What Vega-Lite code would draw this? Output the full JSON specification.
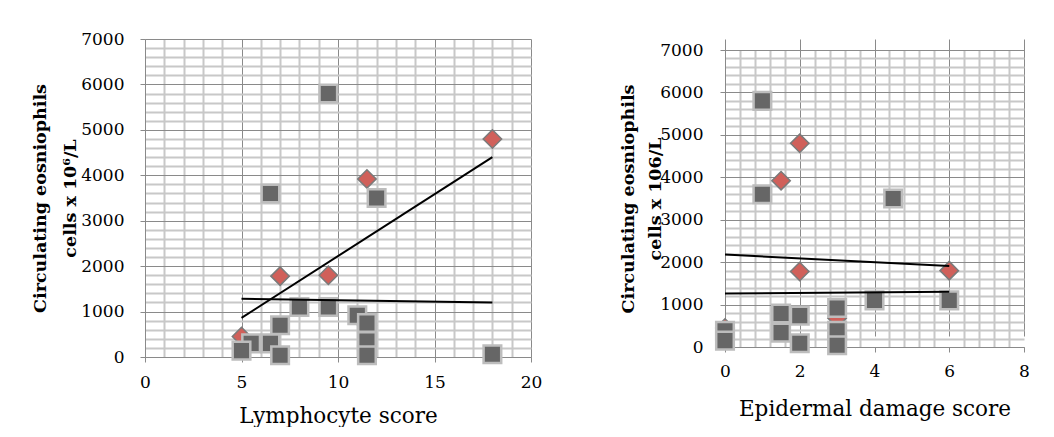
{
  "$schema": "https://vega.github.io/schema/vega-lite/v6.json",
  "background": "white",
  "padding": {"left": 31, "top": 30, "right": 0, "bottom": 0},
  "spacing": 194,
  "bounds": "flush",
  "config": {
    "font": "DejaVu Serif",
    "view": {"stroke": null},
    "axis": {
      "labelFont": "DejaVu Serif",
      "titleFont": "DejaVu Serif",
      "labelColor": "#000000",
      "titleColor": "#000000",
      "labelFontSize": 17,
      "domainColor": "#8a8a8a",
      "tickColor": "#8a8a8a",
      "tickSize": 5,
      "gridColor": "#8a8a8a",
      "gridWidth": 1,
      "gridOpacity": 1,
      "labelFlush": false,
      "labelOverlap": false
    }
  },
  "datasets": {
    "lymph": [
      {"score": 5, "eos": 450, "series": "red"},
      {"score": 7, "eos": 1780, "series": "red"},
      {"score": 9.5, "eos": 1800, "series": "red"},
      {"score": 11.5, "eos": 3920, "series": "red"},
      {"score": 18, "eos": 4800, "series": "red"},
      {"score": 11.5, "eos": 700, "series": "red"},
      {"score": 9.5, "eos": 5800, "series": "grey"},
      {"score": 6.5, "eos": 3600, "series": "grey"},
      {"score": 12, "eos": 3500, "series": "grey"},
      {"score": 8, "eos": 1100, "series": "grey"},
      {"score": 9.5, "eos": 1100, "series": "grey"},
      {"score": 11, "eos": 920, "series": "grey"},
      {"score": 7, "eos": 700, "series": "grey"},
      {"score": 11.5, "eos": 750, "series": "grey"},
      {"score": 11.5, "eos": 350, "series": "grey"},
      {"score": 11.5, "eos": 40, "series": "grey"},
      {"score": 5.5, "eos": 300, "series": "grey"},
      {"score": 6.5, "eos": 300, "series": "grey"},
      {"score": 5, "eos": 140, "series": "grey"},
      {"score": 7, "eos": 40, "series": "grey"},
      {"score": 18, "eos": 60, "series": "grey"}
    ],
    "lymphTrend": [
      {"score": 5, "eos": 860, "series": "red"},
      {"score": 18, "eos": 4400, "series": "red"},
      {"score": 5, "eos": 1280, "series": "grey"},
      {"score": 18, "eos": 1200, "series": "grey"}
    ],
    "epi": [
      {"score": 0, "eos": 450, "series": "red"},
      {"score": 1.5, "eos": 3920, "series": "red"},
      {"score": 2, "eos": 4800, "series": "red"},
      {"score": 2, "eos": 1780, "series": "red"},
      {"score": 6, "eos": 1800, "series": "red"},
      {"score": 3, "eos": 680, "series": "red"},
      {"score": 1, "eos": 5800, "series": "grey"},
      {"score": 1, "eos": 3600, "series": "grey"},
      {"score": 4.5, "eos": 3500, "series": "grey"},
      {"score": 4, "eos": 1100, "series": "grey"},
      {"score": 6, "eos": 1100, "series": "grey"},
      {"score": 3, "eos": 920, "series": "grey"},
      {"score": 1.5, "eos": 790, "series": "grey"},
      {"score": 2, "eos": 740, "series": "grey"},
      {"score": 0, "eos": 380, "series": "grey"},
      {"score": 0, "eos": 150, "series": "grey"},
      {"score": 1.5, "eos": 340, "series": "grey"},
      {"score": 2, "eos": 90, "series": "grey"},
      {"score": 3, "eos": 380, "series": "grey"},
      {"score": 3, "eos": 40, "series": "grey"}
    ],
    "epiTrend": [
      {"score": 0, "eos": 2180, "series": "red"},
      {"score": 6, "eos": 1910, "series": "red"},
      {"score": 0, "eos": 1260, "series": "grey"},
      {"score": 6, "eos": 1300, "series": "grey"}
    ]
  },
  "hconcat": [
    {
      "width": 386,
      "height": 318,
      "layer": [
        {
          "data": {"name": "lymph"},
          "transform": [{"filter": "datum.series === 'red'"}],
          "mark": {"type": "point", "shape": "diamond", "filled": true, "fill": "#d0605a", "stroke": "#7a7a7a", "strokeWidth": 1.5, "size": 340, "opacity": 1},
          "encoding": {
            "x": {"field": "score", "type": "quantitative", "scale": {"domain": [0, 20], "nice": false, "zero": false},
              "axis": {"orient": "top", "values": [1,2,3,4,6,7,8,9,11,12,13,14,16,17,18,19], "grid": true, "gridColor": "#c8c8c8", "gridWidth": 2, "labels": false, "ticks": false, "domain": false, "title": null}},
            "y": {"field": "eos", "type": "quantitative", "scale": {"domain": [0, 7000], "nice": false},
              "axis": {"orient": "right", "values": [200,400,600,800,1200,1400,1600,1800,2200,2400,2600,2800,3200,3400,3600,3800,4200,4400,4600,4800,5200,5400,5600,5800,6200,6400,6600,6800], "grid": true, "gridColor": "#c8c8c8", "gridWidth": 2, "labels": false, "ticks": false, "domain": false, "title": null}}
          }
        },
        {
          "data": {"name": "lymph"},
          "transform": [{"filter": "datum.series === 'grey'"}],
          "mark": {"type": "square", "fill": "#666666", "stroke": "#bdbdbd", "strokeWidth": 2.5, "size": 310, "opacity": 1},
          "encoding": {
            "x": {"field": "score", "type": "quantitative",
              "axis": {"orient": "bottom", "values": [0, 5, 10, 15, 20], "grid": true, "labelFont": "DejaVu Serif", "labelFontSize": 17, "labelPadding": 12, "title": "Lymphocyte score", "titleFont": "DejaVu Serif", "titleFontSize": 21.5, "titleFontWeight": "normal", "titlePadding": 15}},
            "y": {"field": "eos", "type": "quantitative",
              "axis": {"orient": "left", "values": [0, 1000, 2000, 3000, 4000, 5000, 6000, 7000], "format": "d", "grid": true, "labelFont": "DejaVu Serif", "labelFontSize": 17, "labelPadding": 16, "title": ["Circulating eosniophils", "cells x 10⁶/L"], "titleFont": "DejaVu Serif", "titleFontSize": 17.5, "titleFontWeight": "bold", "titleLineHeight": 30, "titlePadding": 1}}
          }
        },
        {
          "data": {"name": "lymphTrend"},
          "mark": {"type": "line", "color": "#000000", "strokeWidth": 2},
          "encoding": {
            "x": {"field": "score", "type": "quantitative", "axis": null},
            "y": {"field": "eos", "type": "quantitative", "axis": null},
            "detail": {"field": "series"}
          }
        }
      ]
    },
    {
      "width": 299,
      "height": 308,
      "layer": [
        {
          "data": {"name": "epi"},
          "transform": [{"filter": "datum.series === 'red'"}],
          "mark": {"type": "point", "shape": "diamond", "filled": true, "fill": "#d0605a", "stroke": "#7a7a7a", "strokeWidth": 1.5, "size": 340, "opacity": 1},
          "encoding": {
            "x": {"field": "score", "type": "quantitative", "scale": {"domain": [0, 8], "nice": false, "zero": false},
              "axis": {"orient": "top", "values": [0.4,0.8,1.2,1.6,2.4,2.8,3.2,3.6,4.4,4.8,5.2,5.6,6.4,6.8,7.2,7.6], "grid": true, "gridColor": "#c8c8c8", "gridWidth": 2, "labels": false, "ticks": false, "domain": false, "title": null}},
            "y": {"field": "eos", "type": "quantitative", "scale": {"domain": [0, 7000], "nice": false, "range": [308, 11]},
              "axis": {"orient": "right", "values": [200,400,600,800,1200,1400,1600,1800,2200,2400,2600,2800,3200,3400,3600,3800,4200,4400,4600,4800,5200,5400,5600,5800,6200,6400,6600,6800], "grid": true, "gridColor": "#c8c8c8", "gridWidth": 2, "labels": false, "ticks": false, "domain": false, "title": null}}
          }
        },
        {
          "data": {"name": "epi"},
          "transform": [{"filter": "datum.series === 'grey'"}],
          "mark": {"type": "square", "fill": "#666666", "stroke": "#bdbdbd", "strokeWidth": 2.5, "size": 310, "opacity": 1},
          "encoding": {
            "x": {"field": "score", "type": "quantitative",
              "axis": {"orient": "bottom", "values": [0, 2, 4, 6, 8], "grid": true, "labelFont": "DejaVu Serif", "labelFontSize": 17, "labelPadding": 11, "title": "Epidermal damage score", "titleFont": "DejaVu Serif", "titleFontSize": 21.5, "titleFontWeight": "normal", "titlePadding": 19}},
            "y": {"field": "eos", "type": "quantitative",
              "axis": {"orient": "left", "values": [0, 1000, 2000, 3000, 4000, 5000, 6000, 7000], "format": "d", "grid": true, "labelFont": "DejaVu Serif", "labelFontSize": 17, "labelPadding": 17, "maxExtent": 58, "title": ["Circulating eosniophils", "cells x 106/L"], "titleFont": "DejaVu Serif", "titleFontSize": 17.5, "titleFontWeight": "bold", "titleLineHeight": 27, "titlePadding": 3}}
          }
        },
        {
          "data": {"name": "epiTrend"},
          "mark": {"type": "line", "color": "#000000", "strokeWidth": 2},
          "encoding": {
            "x": {"field": "score", "type": "quantitative", "axis": null},
            "y": {"field": "eos", "type": "quantitative", "axis": null},
            "detail": {"field": "series"}
          }
        }
      ]
    }
  ]
}
